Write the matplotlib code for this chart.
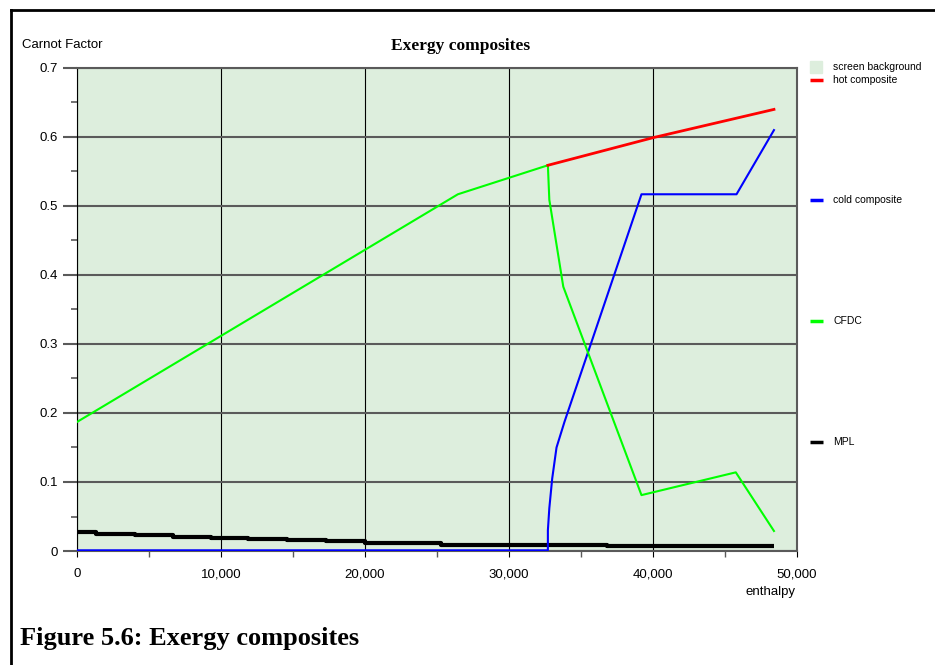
import matplotlib.pyplot as plt
from matplotlib.lines import Line2D
from matplotlib.patches import Rectangle
from matplotlib.ticker import FuncFormatter, MultipleLocator

# hot composite (upper part above the pinch)
hot_h = [32700, 40000, 48400]
hot_cf = [0.559, 0.599, 0.640]

# cold composite
cold_h = [0, 32700, 32700, 32800, 33000, 33300, 33850, 39200, 45800, 48400]
cold_cf = [0.001, 0.001, 0.030, 0.062, 0.105, 0.150, 0.187, 0.517, 0.517, 0.610]

# CFDC
cfdc_h = [0, 26450, 32700, 32800, 33770, 39200, 45750, 48400]
cfdc_cf = [0.187, 0.517, 0.559, 0.509, 0.383, 0.081, 0.114, 0.029]

# MPL (step curve)
mpl_h = [0, 1300, 4000, 6700, 9300, 11900, 14600, 17300, 20000, 22600,
         25300, 29800, 36800, 48400]
mpl_cf = [0.027, 0.025, 0.023, 0.021, 0.019, 0.018, 0.016, 0.014, 0.012,
          0.011, 0.009, 0.008, 0.007, 0.007]

bg = '#ddeedd'
sans = 'Liberation Sans'
serif = 'Liberation Serif'

fig = plt.figure(figsize=(9.35, 6.65), dpi=100)
ax = fig.add_axes([77 / 935, 114 / 665, 720 / 935, 483 / 665])
ax.set_facecolor(bg)

ax.plot(mpl_h, mpl_cf, color='black', lw=3.0, drawstyle='steps-post',
        solid_capstyle='butt', zorder=3)
ax.plot(cold_h, cold_cf, color='#0000ff', lw=1.5, zorder=4)
ax.plot(cfdc_h, cfdc_cf, color='#00ff00', lw=1.5, zorder=5)
ax.plot(hot_h, hot_cf, color='#ff0000', lw=2.0, zorder=6)

ax.set_xlim(0, 50000)
ax.set_ylim(0, 0.7)
ax.xaxis.set_major_locator(MultipleLocator(10000))
ax.xaxis.set_minor_locator(MultipleLocator(5000))
ax.yaxis.set_major_locator(MultipleLocator(0.1))
ax.yaxis.set_minor_locator(MultipleLocator(0.05))
ax.xaxis.set_major_formatter(FuncFormatter(lambda v, p: f'{int(v):,}'))
ax.yaxis.set_major_formatter(FuncFormatter(lambda v, p: '0' if v == 0 else f'{v:.1f}'))

ax.grid(axis='y', which='major', color='#5a5a5a', lw=1.5, zorder=1)
ax.grid(axis='x', which='major', color='black', lw=0.8, zorder=1)
ax.set_axisbelow(True)

ax.tick_params(axis='y', which='major', length=10, width=1.5, color='#5a5a5a',
               pad=3.5, labelsize=9.5)
ax.tick_params(axis='y', which='minor', length=4, width=1.2, color='#5a5a5a')
ax.tick_params(axis='x', which='major', length=4.5, width=0.8, color='black',
               pad=8, labelsize=9.5)
ax.tick_params(axis='x', which='minor', length=4.5, width=1.0, color='#5a5a5a')
for lab in ax.get_xticklabels() + ax.get_yticklabels():
    lab.set_family(sans)

ax.spines['left'].set_color('black')
ax.spines['left'].set_linewidth(0.8)
for s in ['top', 'bottom', 'right']:
    ax.spines[s].set_color('#5a5a5a')
    ax.spines[s].set_linewidth(1.5)

fig.text(461 / 935, 1 - 46 / 665, 'Exergy composites', ha='center', va='center',
         family=serif, weight='bold', fontsize=12.5)
fig.text(22 / 935, 1 - 45 / 665, 'Carnot Factor', ha='left', va='center',
         family=sans, fontsize=9.5)
fig.text(795 / 935, 1 - 592 / 665, 'enthalpy', ha='right', va='center',
         family=sans, fontsize=9.5)
fig.text(20 / 935, 1 - 639 / 665, 'Figure 5.6: Exergy composites', ha='left',
         va='center', family=serif, weight='bold', fontsize=19)

# legend on the right
fig.patches.append(Rectangle((810 / 935, 1 - 73 / 665), 12 / 935, 12 / 665,
                             transform=fig.transFigure, color=bg))
fig.text(833 / 935, 1 - 67 / 665, 'screen background', ha='left', va='center',
         family=sans, fontsize=7.5)
legend_items = [('hot composite', '#ff0000', 80), ('cold composite', '#0000ff', 200),
                ('CFDC', '#00ff00', 321), ('MPL', 'black', 442)]
for name, col, ypix in legend_items:
    yy = 1 - ypix / 665
    fig.lines.append(Line2D([810 / 935, 823 / 935], [yy, yy], color=col, lw=2.5,
                            transform=fig.transFigure, solid_capstyle='butt'))
    fig.text(833 / 935, yy, name, ha='left', va='center', family=sans, fontsize=7.5)

# page frame
fig.lines.append(Line2D([11 / 935, 1], [1 - 10 / 665, 1 - 10 / 665], color='black',
                        lw=2, transform=fig.transFigure))
fig.lines.append(Line2D([11 / 935, 11 / 935], [0, 1 - 10 / 665], color='black',
                        lw=2, transform=fig.transFigure))

fig.savefig('out.png', dpi=100)
